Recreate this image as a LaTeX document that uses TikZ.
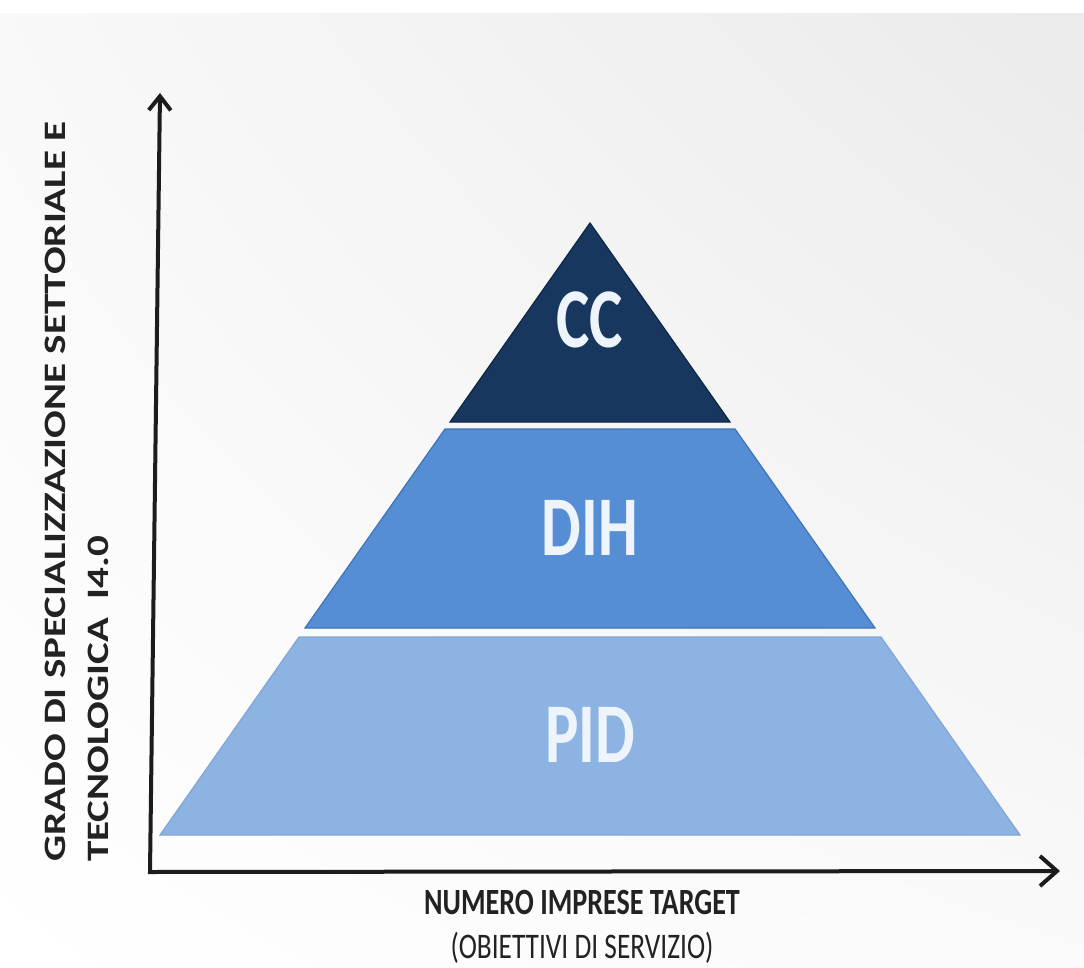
\documentclass[tikz,border=0pt]{standalone}
\usepackage{fontspec}
\setmainfont{Carlito}
\usepackage{tikz}
\usetikzlibrary{arrows.meta, positioning, shadings}

\definecolor{ccblue}{HTML}{17375E}
\definecolor{ccedge}{HTML}{0E2744}
\definecolor{dihblue}{HTML}{558ED5}
\definecolor{dihedge}{HTML}{3F74B8}
\definecolor{pidblue}{HTML}{8DB3E2}
\definecolor{pidedge}{HTML}{7FA6D6}
\definecolor{tagwhite}{HTML}{EEF4FB}
\definecolor{axisgray}{HTML}{1C1C1C}
\definecolor{labelgray}{HTML}{222222}

\begin{document}
\begin{tikzpicture}[x=1pt, y=-1pt,
    band/.style={line width=1.2pt, line join=miter},
    tag/.style={text=tagwhite, font=\bfseries\fontsize{85}{85}\selectfont, xscale=0.74, inner sep=0pt},
    axis/.style={line width=4pt, draw=axisgray, line join=miter},
    ylab/.style={rotate=90, yscale=0.76, anchor=base west, inner sep=0pt, text=labelgray, font=\bfseries\fontsize{41}{41}\selectfont},
    xlab/.style={xscale=0.76, inner sep=0pt, text=labelgray, font=\fontsize{36}{36}\selectfont}]
        % background
        \useasboundingbox (0,0) rectangle (1084,968);
        \fill[white] (0,0) rectangle (1084,968);
        \shade[upper left=gray!5, upper right=gray!16, lower left=white, lower right=gray!4] (0,14) rectangle (1084,968);

        % pyramid
        \filldraw[band, fill=pidblue, draw=pidedge] (299,637) -- (881,637) -- (1020,835) -- (160,835) -- cycle;
        \filldraw[band, fill=dihblue, draw=dihedge] (445,429) -- (735,429) -- (875,628) -- (305,628) -- cycle;
        \filldraw[band, fill=ccblue, draw=ccedge] (590,223) -- (730,422) -- (450,422) -- cycle;

        \node[tag] (cc) at (590,320) {CC};
        \node[tag] (dih) at (590,528) {DIH};
        \node[tag] (pid) at (590,735) {PID};

        % axes
        \coordinate (origin) at (150,872);
        \coordinate (ytip) at (160,93);
        \coordinate (xtip) at (1060,871);
        \draw[axis, {Straight Barb[length=14pt, width=22pt]}-{Straight Barb[length=17pt, width=30pt]}] (ytip) -- (origin) -- (xtip);

        \node[ylab] (ytitle) at (65,862) {GRADO DI SPECIALIZZAZIONE SETTORIALE E};
        \node[ylab] (ysub) at (108,862) {TECNOLOGICA\ \ I4.0};

        \node[xlab, font=\bfseries\fontsize{37}{37}\selectfont, anchor=base] (xtitle) at (582,914) {NUMERO IMPRESE TARGET};
        \node[xlab] (xsub) [below=17pt of xtitle] {(OBIETTIVI DI SERVIZIO)};
    \end{tikzpicture}
\end{document}
